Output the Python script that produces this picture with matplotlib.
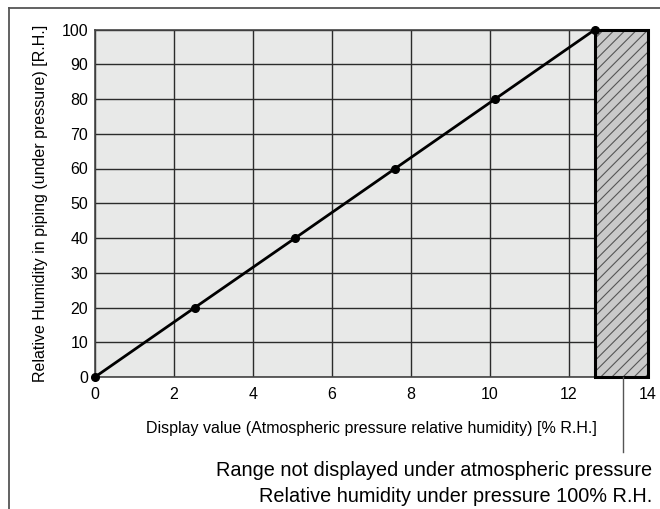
import matplotlib
matplotlib.use("Agg")
import matplotlib.pyplot as plt
from matplotlib.patches import Rectangle
from matplotlib.lines import Line2D

plt.rcParams['font.family'] = ['Liberation Sans', 'DejaVu Sans']
plt.rcParams['hatch.linewidth'] = 0.8

# Valores
display_val = [0, 2.53, 5.07, 7.6, 10.13, 12.66]
rh_piping = [0, 20, 40, 60, 80, 100]
x_ticks = [0, 2, 4, 6, 8, 10, 12, 14]
y_ticks = [0, 10, 20, 30, 40, 50, 60, 70, 80, 90, 100]
limite = 12.66  # acima disso nao ha indicacao
x_max = 14

W, H = 660, 509
fig = plt.figure(figsize=(W / 100, H / 100), dpi=100)
ax = fig.add_axes([95 / W, 1 - 377 / H, (648 - 95) / W, (377 - 29.5) / H])

ax.set_facecolor('#e8e9e8')
ax.set_xlim(0, x_max)
ax.set_ylim(0, 100)
ax.set_xticks(x_ticks)
ax.set_yticks(y_ticks)
ax.tick_params(length=0, labelsize=11.5, colors='black')
ax.tick_params(axis='y', pad=5)
ax.tick_params(axis='x', pad=7)
ax.grid(True, color='#2b2b2b', lw=1.0)
ax.set_axisbelow(True)
for sp in ax.spines.values():
    sp.set_color('#444444')
    sp.set_linewidth(1.2)

# area hachurada (faixa nao exibida)
ax.add_patch(Rectangle((limite, 0), x_max - limite, 100, facecolor='#c9c9c9',
                       edgecolor='#555555', hatch='///', lw=0, zorder=3))
ax.add_patch(Rectangle((limite, 0), x_max - limite, 100, fill=False,
                       edgecolor='black', lw=2.2, zorder=4, clip_on=False))

ax.plot(display_val, rh_piping, '-o', color='black', lw=2, ms=5.5,
        zorder=5, clip_on=False)

ax.set_xlabel('Display value (Atmospheric pressure relative humidity) [% R.H.]',
              fontsize=11.5, labelpad=14)
ax.set_ylabel('Relative Humidity in piping (under pressure) [R.H.]',
              fontsize=11.5, labelpad=10)

# linha de chamada e texto
fig.add_artist(Line2D([622.5 / W] * 2, [1 - 377 / H, 1 - 452 / H],
                      color='#555555', lw=1))
fig.text(652 / W, 1 - 470 / H, 'Range not displayed under atmospheric pressure',
         ha='right', va='center', fontsize=14.3)
fig.text(652 / W, 1 - 497 / H, 'Relative humidity under pressure 100% R.H.',
         ha='right', va='center', fontsize=14.3)

# moldura externa
fig.add_artist(Line2D([9 / W, 1], [1 - 8 / H] * 2, color='#555555', lw=1.3))
fig.add_artist(Line2D([9 / W] * 2, [1 - 8 / H, 0], color='#555555', lw=1.3))

# titulo cortado no topo
fig.text(110 / W, 1 + 4.5 / H, 'Humidity in piping under pressure',
         ha='left', va='baseline', fontsize=13, fontweight='bold')

fig.savefig('out.png', dpi=100)
